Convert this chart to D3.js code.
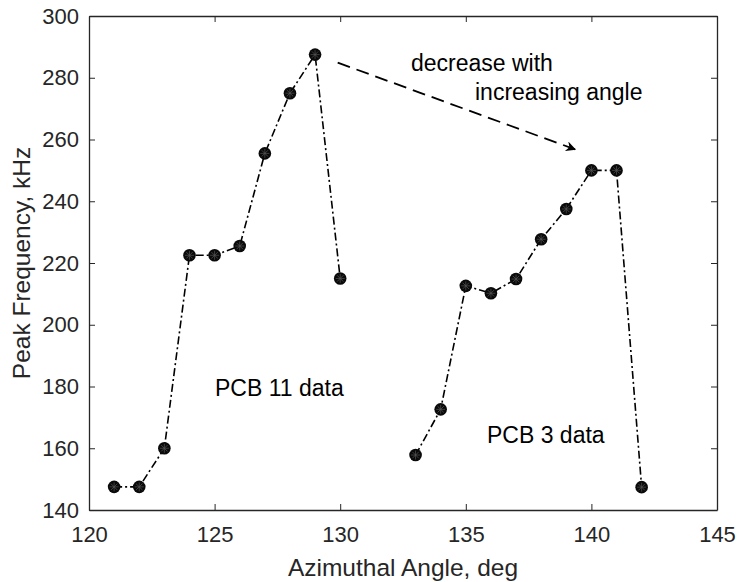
<!DOCTYPE html>
<html>
<head>
<meta charset="utf-8">
<script src="https://cdn.jsdelivr.net/npm/d3@7"></script>
<style>
    body { margin: 0; background: #fff; }
    text { font-family: "Liberation Sans", Arial, sans-serif; fill: #262626; }
</style>
</head>
<body>
<div id="chart"></div>
<script>
var pcb11Angles = [121, 122, 123, 124, 125, 126, 127, 128, 129, 130];
var pcb11Freq = [147.5, 147.5, 160, 222.5, 222.5, 225.5, 255.5, 275, 287.5, 215];
var pcb3Angles = [133, 134, 135, 136, 137, 138, 139, 140, 141, 142];
var pcb3Freq = [157.8, 172.6, 212.6, 210.2, 214.8, 227.7, 237.5, 250, 250, 147.4];
var xTicks = [120, 125, 130, 135, 140, 145];
var yTicks = [140, 160, 180, 200, 220, 240, 260, 280, 300];
var arrowFrom = [129.9, 284.9];
var arrowTo = [139.35, 256.8];

var w = 738, h = 582;
var margin = { left: 89, right: 21, top: 16, bottom: 72 };

var svg = d3.select('#chart').append('svg')
    .attr('width', w)
    .attr('height', h);

var x = d3.scaleLinear().domain([120, 145]).range([margin.left, w - margin.right]);
var y = d3.scaleLinear().domain([140, 300]).range([h - margin.bottom, margin.top]);

// axes with inward ticks
var tickLen = 6;
svg.append('g')
    .attr('class', 'axis')
    .attr('transform', 'translate(0,' + y(140) + ')')
    .call(d3.axisBottom(x).tickValues(xTicks).tickSizeInner(-tickLen).tickSizeOuter(0).tickPadding(16));
svg.append('g')
    .attr('transform', 'translate(0,' + y(300) + ')')
    .call(d3.axisTop(x).tickValues(xTicks).tickSizeInner(-tickLen).tickSizeOuter(0).tickFormat(''));
svg.append('g')
    .attr('class', 'axis')
    .attr('transform', 'translate(' + x(120) + ',0)')
    .call(d3.axisLeft(y).tickValues(yTicks).tickSizeInner(-tickLen).tickSizeOuter(0).tickPadding(10));
svg.append('g')
    .attr('transform', 'translate(' + x(145) + ',0)')
    .call(d3.axisRight(y).tickValues(yTicks).tickSizeInner(-tickLen).tickSizeOuter(0).tickFormat(''));

svg.selectAll('.domain').attr('stroke', '#262626').attr('stroke-width', 1.3);
svg.selectAll('.tick line').attr('stroke', '#262626').attr('stroke-width', 1);
svg.selectAll('.axis .tick text')
    .style('font-size', '22px')
    .attr('fill', '#262626');

svg.append('text')
    .attr('text-anchor', 'middle')
    .attr('x', x(132.5)).attr('y', 576)
    .style('font-size', '24.5px')
    .text('Azimuthal Angle, deg');

svg.append('text')
    .attr('text-anchor', 'middle')
    .attr('transform', 'translate(30,' + y(220) + ') rotate(-90)')
    .style('font-size', '24.5px')
    .text('Peak Frequency, kHz');

// series
var line = d3.line().x(d => x(d[0])).y(d => y(d[1]));
var series = [
    d3.zip(pcb11Angles, pcb11Freq),
    d3.zip(pcb3Angles, pcb3Freq)
];

series.forEach(function (pts) {
    svg.append('path')
        .datum(pts)
        .attr('d', line)
        .attr('fill', 'none')
        .attr('stroke', '#000')
        .attr('stroke-width', 1.6)
        .attr('stroke-dasharray', '8,3,2,3');

    var marks = svg.append('g').selectAll('g.mark')
        .data(pts).enter().append('g')
        .attr('transform', d => 'translate(' + x(d[0]) + ',' + y(d[1]) + ')');
    marks.append('circle')
        .attr('r', 6.3)
        .attr('fill', '#0a0a0a');
    [0, 45, 90, 135].forEach(function (a) {
        marks.append('line')
            .attr('x1', -4.5).attr('x2', 4.5)
            .attr('y1', 0).attr('y2', 0)
            .attr('transform', 'rotate(' + a + ')')
            .attr('stroke', '#555')
            .attr('stroke-width', 0.7);
    });
});

// annotation arrow
svg.append('defs').append('marker')
    .attr('id', 'head')
    .attr('viewBox', '0 0 10 10')
    .attr('refX', 9).attr('refY', 5)
    .attr('markerWidth', 12).attr('markerHeight', 10)
    .attr('markerUnits', 'userSpaceOnUse')
    .attr('orient', 'auto')
    .append('path')
    .attr('d', 'M0,0 L10,5 L0,10 L3,5 Z')
    .attr('fill', '#000');

svg.append('line')
    .attr('x1', x(arrowFrom[0])).attr('y1', y(arrowFrom[1]))
    .attr('x2', x(arrowTo[0])).attr('y2', y(arrowTo[1]))
    .attr('stroke', '#000')
    .attr('stroke-width', 1.8)
    .attr('stroke-dasharray', '13,7')
    .attr('marker-end', 'url(#head)');

var notes = [
    { text: 'decrease with', x: 411, y: 71 },
    { text: 'increasing angle', x: 475, y: 100 },
    { text: 'PCB 11 data', x: 215, y: 396 },
    { text: 'PCB 3 data', x: 487, y: 443 }
];
svg.selectAll('text.note')
    .data(notes).enter().append('text')
    .attr('class', 'note')
    .attr('x', d => d.x).attr('y', d => d.y)
    .style('font-size', '23px')
    .style('fill', '#000')
    .text(d => d.text);
</script>
</body>
</html>
